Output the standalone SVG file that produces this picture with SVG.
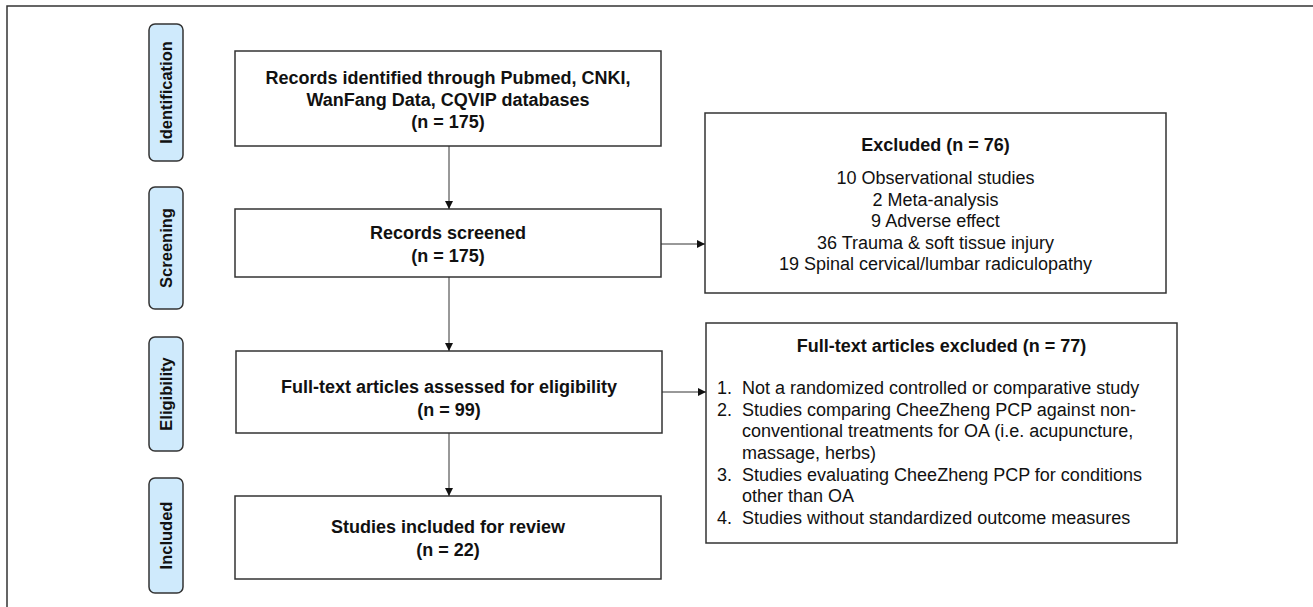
<svg xmlns="http://www.w3.org/2000/svg" width="1313" height="607" viewBox="0 0 1313 607">
<style>
.box{fill:#fff;stroke:#333;stroke-width:1.5}
.stage{fill:#cfeafc;stroke:#333;stroke-width:1.5}
.b{font-family:"Liberation Sans",Arial,sans-serif;font-weight:bold;font-size:18px;fill:#111;text-anchor:middle}
.n{font-family:"Liberation Sans",Arial,sans-serif;font-size:18px;fill:#111}
.c{text-anchor:middle}
.st{font-family:"Liberation Sans",Arial,sans-serif;font-weight:bold;font-size:16.5px;fill:#111;text-anchor:middle}
.conn{stroke:#333;stroke-width:1;fill:none;marker-end:url(#ah)}
</style>
<defs>
<marker id="ah" viewBox="0 0 8 8" refX="8" refY="4" markerWidth="8" markerHeight="8" markerUnits="userSpaceOnUse" orient="auto">
<path d="M0,0 L8,4 L0,8 z" fill="#111"/>
</marker>
</defs>
<rect width="1313" height="607" fill="#fff"/>
<path d="M7,607 V6 H1313" fill="none" stroke="#333" stroke-width="1.5"/>
<g id="stage-identification"><rect class="stage" x="149" y="24" width="34" height="137" rx="6"/><text class="st" transform="translate(172,92.5) rotate(-90)">Identification</text></g>
<g id="stage-screening"><rect class="stage" x="149" y="187" width="34" height="122" rx="6"/><text class="st" transform="translate(172,248) rotate(-90)">Screening</text></g>
<g id="stage-eligibility"><rect class="stage" x="149" y="337" width="34" height="114" rx="6"/><text class="st" transform="translate(172,394) rotate(-90)">Eligibility</text></g>
<g id="stage-included"><rect class="stage" x="149" y="478" width="34" height="115" rx="6"/><text class="st" transform="translate(172,535.5) rotate(-90)">Included</text></g>
<g id="identified"><rect class="box" x="235" y="51" width="426" height="95"/>
<text class="b" x="448" y="84">Records identified through Pubmed, CNKI,</text>
<text class="b" x="448" y="106">WanFang Data, CQVIP databases</text>
<text class="b" x="448" y="128">(n = 175)</text></g>
<g id="screened"><rect class="box" x="235" y="209" width="426" height="68"/>
<text class="b" x="448" y="239">Records screened</text>
<text class="b" x="448" y="262">(n = 175)</text></g>
<g id="fulltext"><rect class="box" x="236" y="351" width="426" height="82"/>
<text class="b" x="449" y="393">Full-text articles assessed for eligibility</text>
<text class="b" x="449" y="416">(n = 99)</text></g>
<g id="included"><rect class="box" x="235" y="496" width="426" height="83"/>
<text class="b" x="448" y="533">Studies included for review</text>
<text class="b" x="448" y="556">(n = 22)</text></g>
<g id="excluded"><rect class="box" x="705" y="113" width="461" height="180"/>
<text class="b" x="935.5" y="151">Excluded (n = 76)</text>
<g class="n c">
<text x="935.5" y="184">10 Observational studies</text>
<text x="935.5" y="206">2 Meta-analysis</text>
<text x="935.5" y="227">9 Adverse effect</text>
<text x="935.5" y="249">36 Trauma &amp; soft tissue injury</text>
<text x="935.5" y="270">19 Spinal cervical/lumbar radiculopathy</text>
</g></g>
<g id="fulltext-excluded"><rect class="box" x="706" y="323" width="471" height="220"/>
<text class="b" x="941.5" y="352">Full-text articles excluded (n = 77)</text>
<g class="n">
<text x="717" y="394">1.</text><text x="742" y="394">Not a randomized controlled or comparative study</text>
<text x="717" y="416">2.</text><text x="742" y="416">Studies comparing CheeZheng PCP against non-</text>
<text x="742" y="437">conventional treatments for OA (i.e. acupuncture,</text>
<text x="742" y="459">massage, herbs)</text>
<text x="717" y="481">3.</text><text x="742" y="481">Studies evaluating CheeZheng PCP for conditions</text>
<text x="742" y="502">other than OA</text>
<text x="717" y="524">4.</text><text x="742" y="524">Studies without standardized outcome measures</text>
</g></g>
<g id="connectors">
<path class="conn" d="M449,146 V209"/>
<path class="conn" d="M449,277 V351"/>
<path class="conn" d="M449,433 V496"/>
<path class="conn" d="M661,244 H705"/>
<path class="conn" d="M662,392 H706"/>
</g>
</svg>
